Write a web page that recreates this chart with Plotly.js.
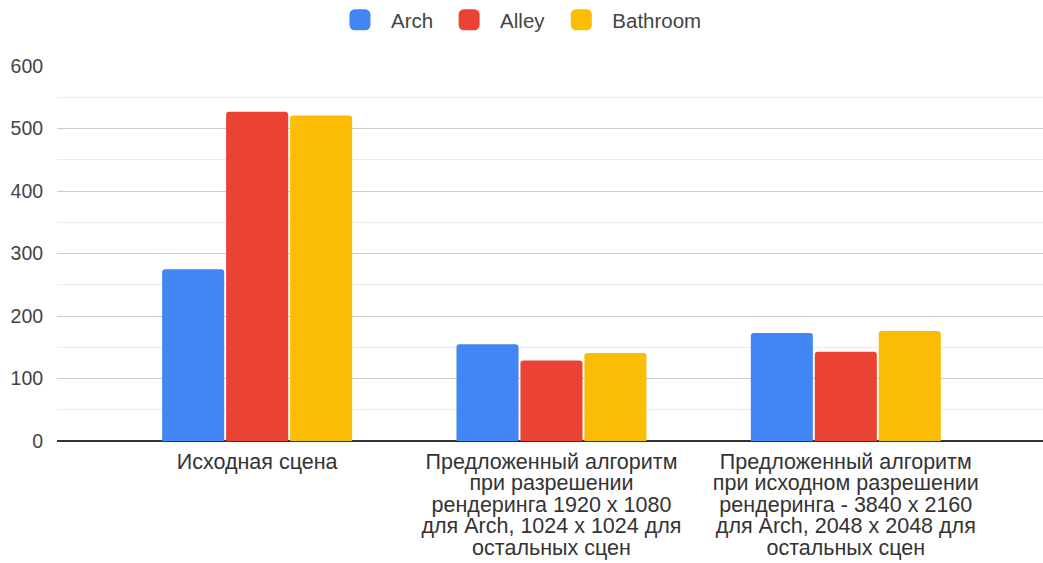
<!DOCTYPE html>
<html>
<head>
<meta charset="utf-8">
<script src="https://cdn.plot.ly/plotly-3.0.1.min.js"></script>
<style>html,body{margin:0;padding:0;background:#fff;}#chart{width:1043px;height:563px;}</style>
</head>
<body>
<div id="chart"></div>
<script>
const categories = [
  "Исходная сцена",
  "Предложенный алгоритм<br>при разрешении<br>рендеринга 1920 x 1080<br>для Arch, 1024 x 1024 для<br>остальных сцен",
  "Предложенный алгоритм<br>при исходном разрешении<br>рендеринга - 3840 x 2160<br>для Arch, 2048 x 2048 для<br>остальных сцен"
];
const seriesNames = ["Arch", "Alley", "Bathroom"];
const archValues = [275, 155, 173];
const alleyValues = [527, 129, 143];
const bathroomValues = [521, 141, 176];
const seriesColors = ["#4285F4", "#EA4335", "#FBBC04"];
const yTicks = [0, 100, 200, 300, 400, 500, 600];

const allValues = [archValues, alleyValues, bathroomValues];
const traces = allValues.map((vals, i) => ({
  type: "bar",
  name: seriesNames[i],
  x: categories,
  y: vals,
  marker: {color: seriesColors[i], cornerradius: 3, line: {width: 0}},
  hoverinfo: "y+name"
}));

const FONT = '"Liberation Sans", Arial, sans-serif';
const layout = {
  width: 1043, height: 563,
  margin: {l: 57, r: 0, t: 66, b: 122, pad: 0, autoexpand: false},
  paper_bgcolor: "#ffffff",
  plot_bgcolor: "#ffffff",
  font: {family: FONT, color: "#444444", size: 20},
  barmode: "group",
  bargap: 0.348,
  bargroupgap: 0.03,
  showlegend: true,
  legend: {
    orientation: "h", xref: "container", x: 0.3154, xanchor: "left",
    yref: "container", y: 0.9645, yanchor: "middle",
    font: {family: FONT, size: 20.5, color: "#444444"}, itemwidth: 52,
    traceorder: "normal"
  },
  xaxis: {
    type: "category",
    range: [-0.68, 2.67],
    tickangle: 0,
    automargin: false,
    showgrid: false,
    zeroline: false,
    showline: false,
    ticks: "outside", ticklen: 1, tickcolor: "rgba(0,0,0,0)",
    tickfont: {family: FONT, size: 21.5, color: "#333333"},
    fixedrange: true
  },
  yaxis: {
    range: [0, 600],
    automargin: false,
    tickvals: yTicks,
    ticktext: yTicks.map(String),
    showgrid: true,
    gridcolor: "#cccccc",
    gridwidth: 1,
    zeroline: true,
    zerolinecolor: "#333333",
    zerolinewidth: 2,
    showline: false,
    ticks: "outside", ticklen: 9, tickcolor: "rgba(0,0,0,0)",
    tickfont: {family: FONT, size: 19.5, color: "#444444"},
    minor: {dtick: 50, tick0: 0, showgrid: true, gridcolor: "#ebebeb", gridwidth: 1, ticks: ""},
    fixedrange: true
  }
};

Plotly.newPlot("chart", traces, layout, {displayModeBar: false, staticPlot: true}).then(() => {
  // tighter line spacing for multi-line category labels, like the reference
  document.querySelectorAll("#chart .xtick text").forEach(t => {
    t.querySelectorAll("tspan.line").forEach(ts => {
      const dy = ts.getAttribute("dy");
      if (dy && dy.endsWith("em")) {
        ts.setAttribute("dy", (parseFloat(dy) * 1.0 / 1.3) + "em");
      }
    });
  });
  // larger legend swatches (keep Plotly's own positioning transform)
  document.querySelectorAll("#chart .legendpoints path").forEach(p => {
    const old = p.getAttribute("transform") || "";
    p.setAttribute("transform", old + " scale(1.75)");
  });
});
</script>
</body>
</html>
